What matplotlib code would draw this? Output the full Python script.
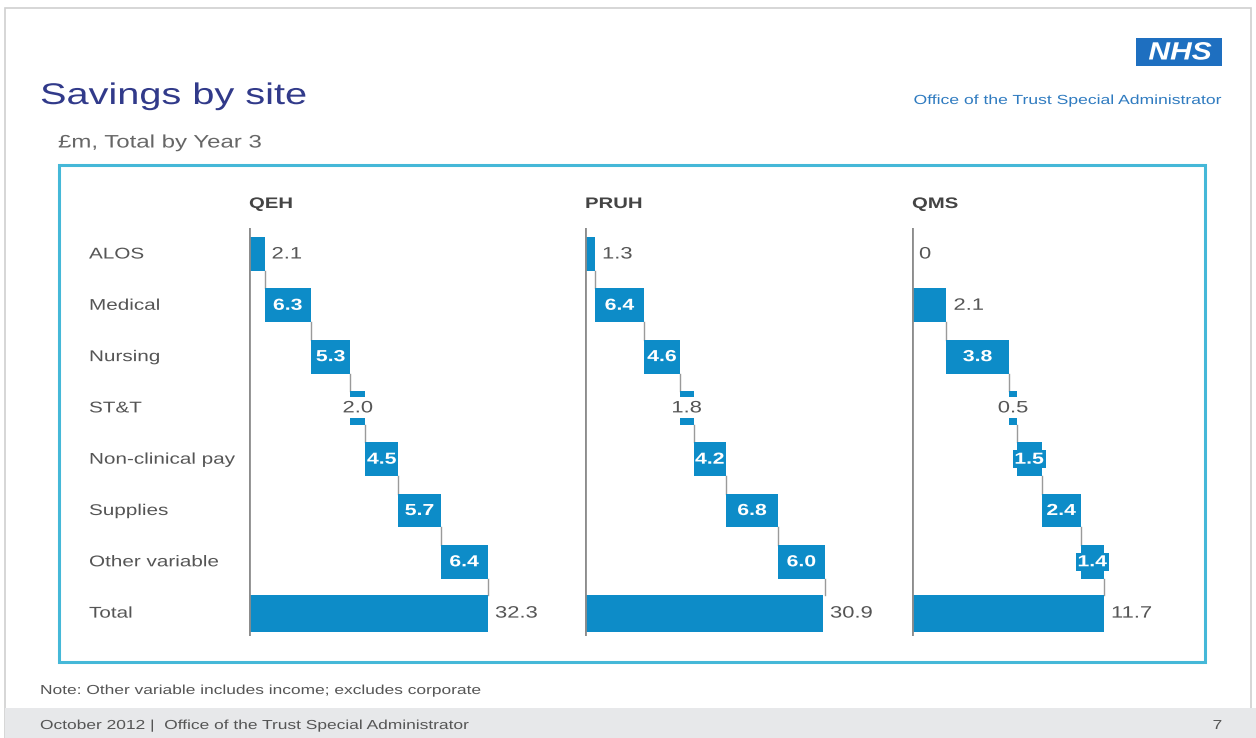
import matplotlib
matplotlib.use("Agg")
import matplotlib.pyplot as plt
from matplotlib.patches import Rectangle
from matplotlib.patheffects import AbstractPathEffect
from matplotlib.transforms import Affine2D

# ---- data -------------------------------------------------------------
categories = ["ALOS", "Medical", "Nursing", "ST&T", "Non-clinical pay",
              "Supplies", "Other variable", "Total"]
sites = ["QEH", "PRUH", "QMS"]
qeh_steps = [2.1, 6.3, 5.3, 2.0, 4.5, 5.7, 6.4]
pruh_steps = [1.3, 6.4, 4.6, 1.8, 4.2, 6.8, 6.0]
qms_steps = [0, 2.1, 3.8, 0.5, 1.5, 2.4, 1.4]
totals = [32.3, 30.9, 11.7]
value_labels = {
    "QEH": ["2.1", "6.3", "5.3", "2.0", "4.5", "5.7", "6.4", "32.3"],
    "PRUH": ["1.3", "6.4", "4.6", "1.8", "4.2", "6.8", "6.0", "30.9"],
    "QMS": ["0", "2.1", "3.8", "0.5", "1.5", "2.4", "1.4", "11.7"],
}

# label placement: 'out' = grey text to the right, 'in' = white bold inside,
# 'mid' = grey text on white over the bar, 'tag' = white bold on a blue tag
label_modes = {
    "QEH": ["out", "in", "in", "mid", "in", "in", "in", "out"],
    "PRUH": ["out", "in", "in", "mid", "in", "in", "in", "out"],
    "QMS": ["out", "out", "in", "mid", "tag", "in", "tag", "out"],
}

# ---- styling ----------------------------------------------------------
W, H = 1256, 738
BAR = "#0D8CC8"
GREY_TXT = "#555555"
plt.rcParams["font.family"] = ["Liberation Sans", "DejaVu Sans"]
STRETCH = 1.33  # slide typography is set wide


class WideText(AbstractPathEffect):
    """Draw glyphs stretched horizontally about the alignment anchor."""

    def __init__(self, sx=STRETCH, anchor=0.0):
        super().__init__()
        self.sx = sx
        self.anchor = anchor

    def draw_path(self, renderer, gc, tpath, affine, rgbFace=None):
        ext = tpath.get_extents()
        cx = 0.0 if self.anchor == 0 else ext.x0 + self.anchor * ext.width
        stretch = Affine2D().translate(-cx, 0).scale(self.sx, 1).translate(cx, 0)
        renderer.draw_path(gc, tpath, stretch + affine, rgbFace)


ANCHOR = {"left": 0.0, "center": 0.5, "right": 1.0}


def wtext(target, x, y, s, ha="left", va="center", sx=STRETCH, **kw):
    return target.text(x, y, s, ha=ha, va=va,
                       path_effects=[WideText(sx=sx, anchor=ANCHOR[ha])], **kw)


fig = plt.figure(figsize=(W / 100, H / 100), dpi=100)
fig.patch.set_facecolor("white")


def fx(x):
    return x / W


def fy(y):
    return 1 - y / H


# slide frame, footer band and content box
fig.add_artist(Rectangle((fx(5), 0), fx(1246), fy(8), transform=fig.transFigure,
                         fill=False, edgecolor="#d0d0d0", lw=1.2))
fig.add_artist(Rectangle((fx(5), 0), fx(1251), fy(708), transform=fig.transFigure,
                         facecolor="#e7e8ea", edgecolor="none"))
fig.add_artist(Rectangle((fx(59), fy(662)), fx(1146), (662 - 165) / H,
                         transform=fig.transFigure, fill=False,
                         edgecolor="#45B8D8", lw=2.2))

# header
wtext(fig, fx(40), fy(96), "Savings by site", fontsize=21.5, color="#313A8A")
wtext(fig, fx(58), fy(143), "£m, Total by Year 3", fontsize=13, color="#666666")
fig.add_artist(Rectangle((fx(1136), fy(66)), fx(86), 28 / H,
                         transform=fig.transFigure, facecolor="#1E6FC0",
                         edgecolor="none"))
wtext(fig, fx(1180), fy(52.5), "NHS", ha="center", fontsize=18, color="white",
      weight="bold", style="italic", sx=1.2)
wtext(fig, fx(1222), fy(101), "Office of the Trust Special Administrator",
      ha="right", fontsize=9.5, color="#2F7BC0")

# footer
wtext(fig, fx(40), fy(691), "Note: Other variable includes income; excludes corporate",
      fontsize=9.4, color="#555555")
wtext(fig, fx(40), fy(726), "October 2012 |  Office of the Trust Special Administrator",
      fontsize=9.4, color="#555555")
wtext(fig, fx(1222), fy(726), "7", ha="right", fontsize=9.4, color="#555555")

# row positions (pixels) and category labels
ROW0, ROWSTEP = 254, 51.3
for i, cat in enumerate(categories):
    wtext(fig, fx(89), fy(ROW0 + i * ROWSTEP), cat, fontsize=11.2, color="#555555")

# panels: zero position and total-bar end in pixels
panel_px = {"QEH": (249, 488), "PRUH": (585, 823), "QMS": (912, 1104)}
steps_by_site = {"QEH": qeh_steps, "PRUH": pruh_steps, "QMS": qms_steps}
AX_TOP, AX_BOT, AX_W = 228, 636, 300

for site, total in zip(sites, totals):
    x0, xend = panel_px[site]
    ppu = (xend - x0) / total
    ax = fig.add_axes([fx(x0), fy(AX_BOT), AX_W / W, (AX_BOT - AX_TOP) / H])
    ax.set_xlim(0, AX_W / ppu)
    ax.set_ylim((AX_BOT - ROW0) / ROWSTEP, (AX_TOP - ROW0) / ROWSTEP)
    ax.axis("off")
    ax.axvline(0, color="#8C8C8C", lw=2.0, zorder=5)

    wtext(fig, fx(x0), fy(204), site, fontsize=11, weight="bold", color="#444444")

    steps = steps_by_site[site]
    lefts, widths = [], []
    cum = 0.0
    for v in steps:
        lefts.append(cum)
        widths.append(v)
        cum += v
    lefts.append(0)
    widths.append(total)
    heights = [0.66] * len(steps) + [0.72]
    ys = list(range(len(categories)))

    ax.barh(ys, widths, left=lefts, height=heights, color=BAR, zorder=3)

    # connectors between consecutive bars
    for i in range(len(categories) - 1):
        xc = lefts[i] + widths[i]
        ax.plot([xc, xc], [ys[i] + heights[i] / 2, ys[i + 1] - heights[i + 1] / 2],
                color="#9A9A9A", lw=1.0, zorder=2)

    # value labels
    modes = label_modes[site]
    for i, (lab, mode) in enumerate(zip(value_labels[site], modes)):
        left, w = lefts[i], widths[i]
        mid = left + w / 2
        if mode == "out":
            wtext(ax, left + w + 7 / ppu, ys[i], lab, fontsize=11.9,
                  color=GREY_TXT, zorder=6)
        elif mode == "in":
            wtext(ax, mid, ys[i], lab, ha="center", fontsize=11.5, color="white",
                  weight="bold", zorder=6)
        elif mode == "mid":
            bw, bh = 34 / ppu, 21 / ROWSTEP
            ax.add_patch(Rectangle((mid - bw / 2, ys[i] - bh / 2), bw, bh,
                                   facecolor="white", edgecolor="none", zorder=4))
            wtext(ax, mid, ys[i], lab, ha="center", fontsize=11.9,
                  color=GREY_TXT, zorder=6)
        else:
            bw, bh = 33 / ppu, 18 / ROWSTEP
            ax.add_patch(Rectangle((mid - bw / 2, ys[i] - bh / 2), bw, bh,
                                   facecolor=BAR, edgecolor="none", zorder=4))
            wtext(ax, mid, ys[i], lab, ha="center", fontsize=11.5, color="white",
                  weight="bold", zorder=6)

fig.savefig("out.png", dpi=100)
